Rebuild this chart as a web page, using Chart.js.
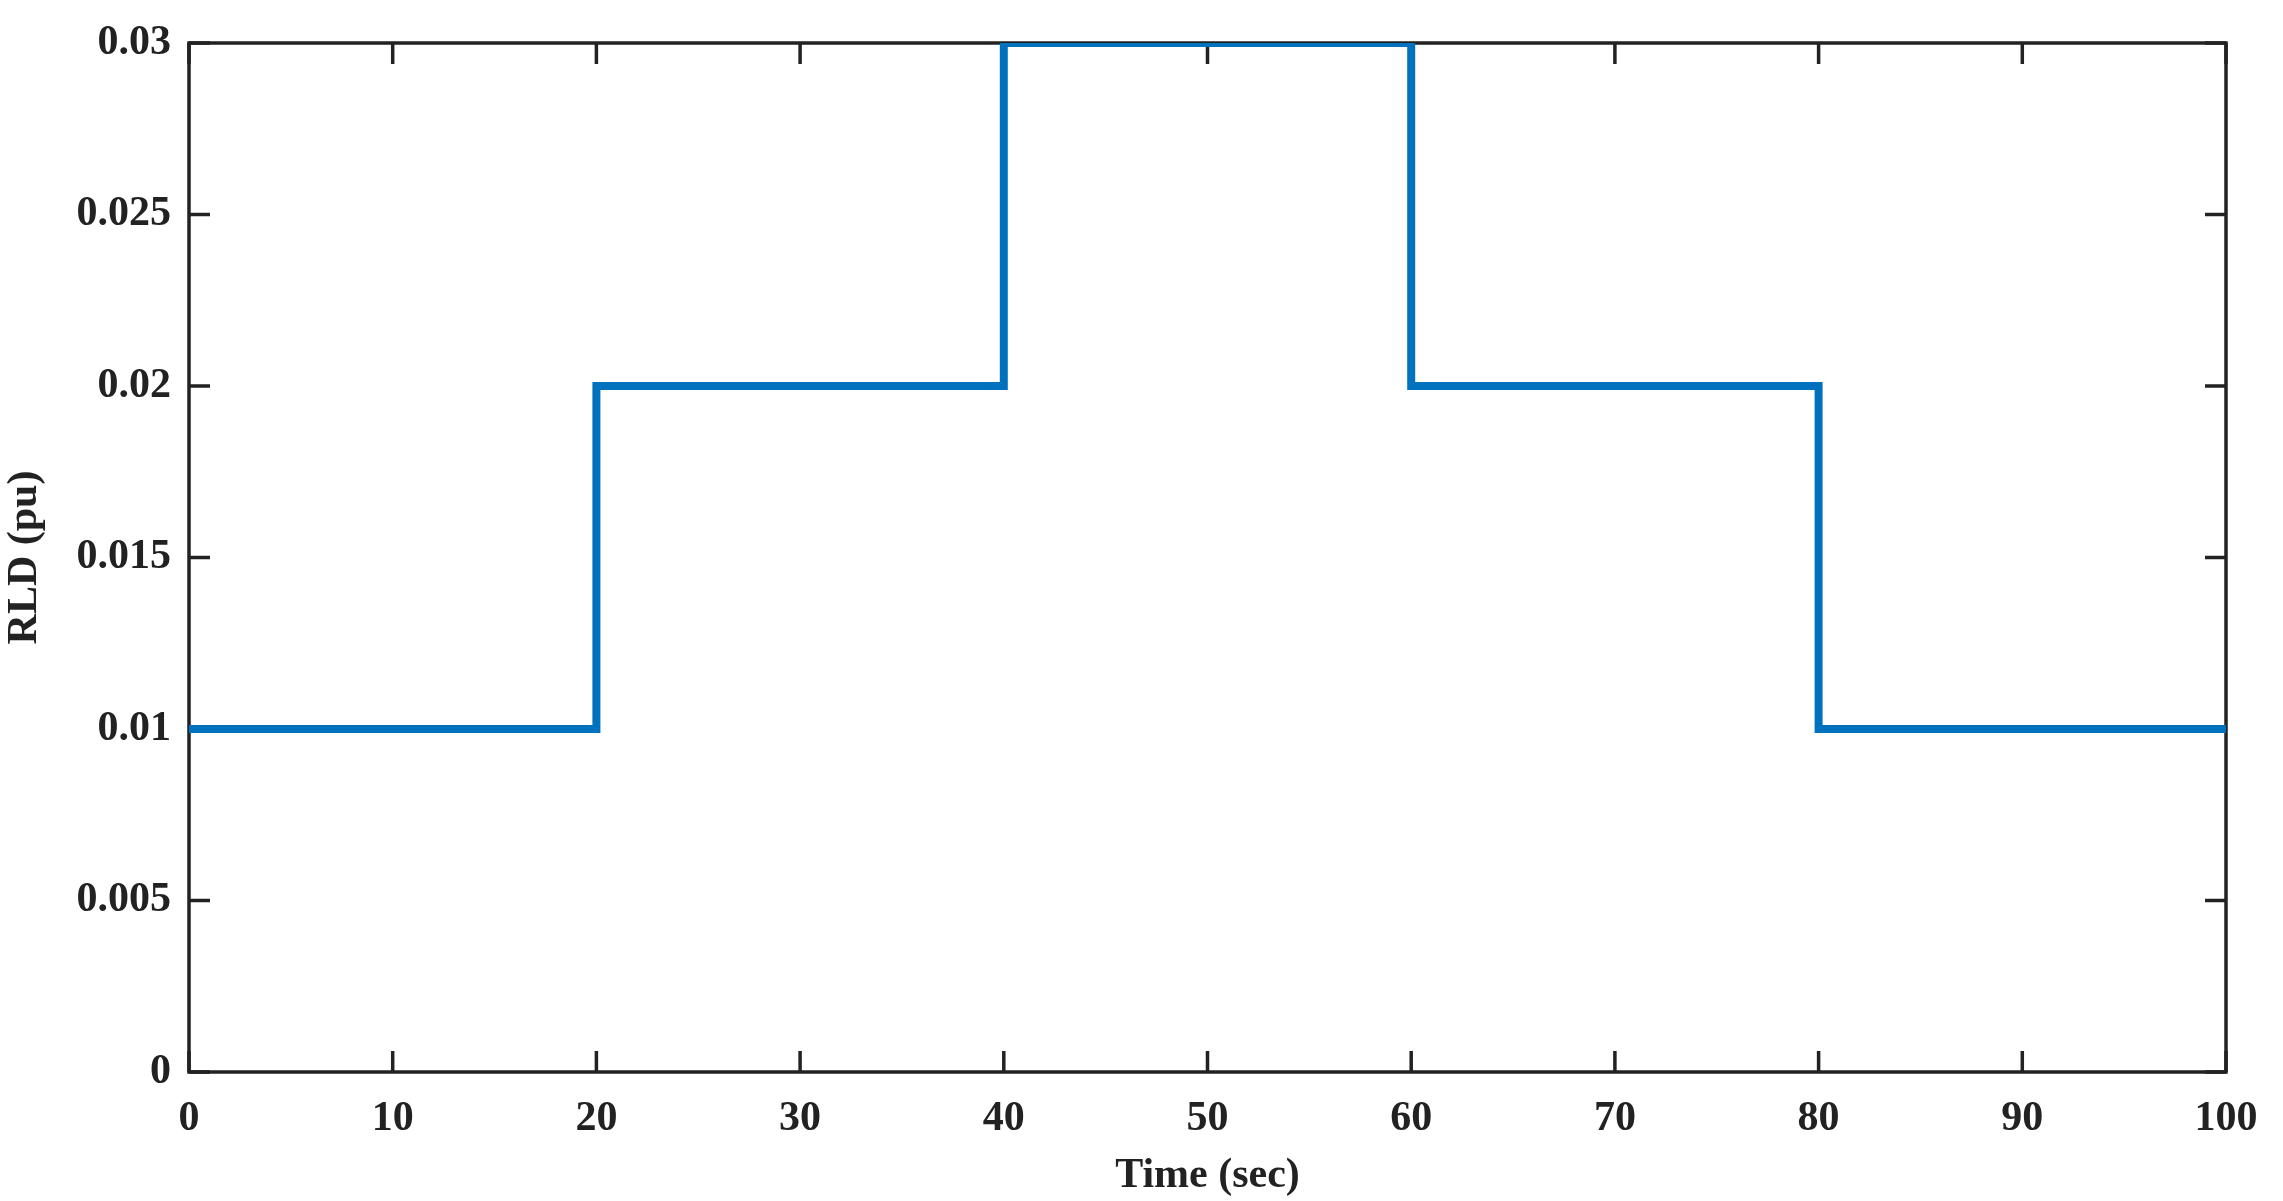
<!DOCTYPE html>
<html><head><meta charset="utf-8">
<script src="https://cdn.jsdelivr.net/npm/chart.js@4"></script>
<style>html,body{margin:0;padding:0;background:#fff}#w{width:2283px;height:1201px}</style>
</head><body><div id="w"><canvas id="c"></canvas></div>
<script>
const timeSec = [0, 20, 20, 40, 40, 60, 60, 80, 80, 100];
const rldPu = [0.01, 0.01, 0.02, 0.02, 0.03, 0.03, 0.02, 0.02, 0.01, 0.01];
const xTicks = [0,10,20,30,40,50,60,70,80,90,100];
const yTicks = [0,0.005,0.01,0.015,0.02,0.025,0.03];
const F = "'Liberation Serif', 'DejaVu Serif', serif";
const frame = {
  id:'frame',
  beforeDatasetsDraw(ch){
    const {ctx, chartArea:a, scales:{x,y}} = ch;
    ctx.save(); ctx.strokeStyle='#222'; ctx.lineWidth=3.5;
    ctx.strokeRect(a.left,a.top,a.right-a.left,a.bottom-a.top);
    ctx.beginPath();
    const L=21;
    xTicks.forEach(v=>{const p=x.getPixelForValue(v);ctx.moveTo(p,a.bottom);ctx.lineTo(p,a.bottom-L);ctx.moveTo(p,a.top);ctx.lineTo(p,a.top+L);});
    yTicks.forEach(v=>{const p=y.getPixelForValue(v);ctx.moveTo(a.left,p);ctx.lineTo(a.left+L,p);ctx.moveTo(a.right,p);ctx.lineTo(a.right-L,p);});
    ctx.stroke(); ctx.restore();
  }
};
new Chart(document.getElementById('c'),{
  type:'line',
  data:{datasets:[{data:timeSec.map((t,i)=>({x:t,y:rldPu[i]})),borderColor:'#0072BD',borderWidth:8,pointRadius:0,fill:false,tension:0}]},
  options:{
    responsive:true,maintainAspectRatio:false,animation:false,
    layout:{padding:{top:43,right:57,left:0,bottom:0}},
    plugins:{legend:{display:false},tooltip:{enabled:false}},
    scales:{
      x:{type:'linear',min:0,max:100,
        afterBuildTicks(s){s.ticks=xTicks.map(v=>({value:v}));},
        afterFit(s){s.height=129;},
        grid:{display:false},border:{display:false},
        ticks:{color:'#222',font:{family:F,size:42,weight:'bold'},padding:14,maxRotation:0,autoSkip:false},
        title:{display:true,text:'Time (sec)',color:'#222',font:{family:F,size:42,weight:'bold'},padding:{top:-10,bottom:0}}},
      y:{type:'linear',min:0,max:0.03,
        afterBuildTicks(s){s.ticks=yTicks.map(v=>({value:v}));},
        afterFit(s){s.width=189;},
        grid:{display:false},border:{display:false},
        ticks:{color:'#222',font:{family:F,size:42,weight:'bold'},padding:10,autoSkip:false,callback:v=>String(v)},
        title:{display:true,text:'RLD (pu)',color:'#222',font:{family:F,size:42,weight:'bold'},padding:{top:0,bottom:-2}}}
    }
  },
  plugins:[frame]
});
</script></body></html>
